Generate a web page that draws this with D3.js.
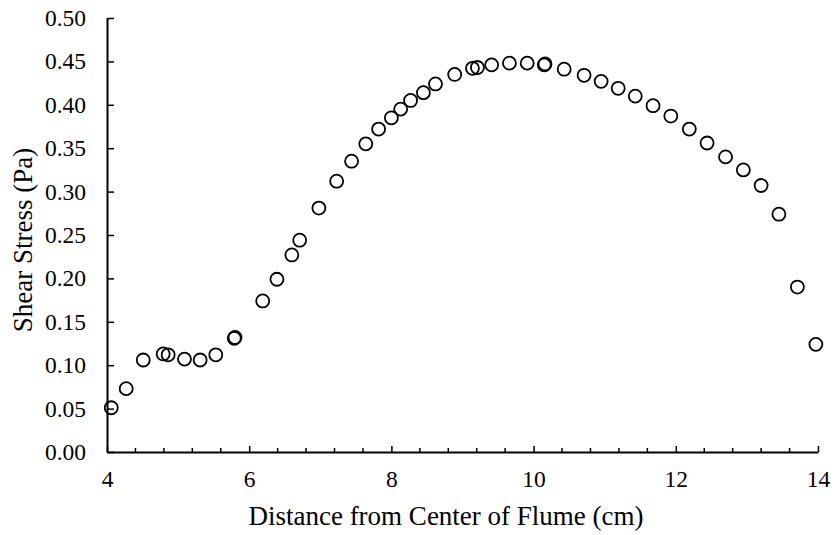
<!DOCTYPE html>
<html>
<head>
<meta charset="utf-8">
<script src="https://cdn.jsdelivr.net/npm/d3@7"></script>
<style>
  html, body { margin: 0; padding: 0; background: #fff; }
  svg text { fill: #000; }
</style>
</head>
<body>
<svg id="chart" width="837" height="535"></svg>
<script>
// Distance from flume centre (cm) and measured wall shear stress (Pa)
const distance = [
  4.06, 4.27, 4.51, 4.79, 4.86, 5.09, 5.31, 5.53, 5.79, 5.80,
  6.19, 6.39, 6.60, 6.71, 6.98, 7.23, 7.44, 7.64, 7.82, 8.00,
  8.13, 8.27, 8.45, 8.62, 8.89, 9.14, 9.21, 9.41, 9.66, 9.91,
  10.15, 10.16, 10.43, 10.71, 10.95, 11.19, 11.43, 11.68, 11.93, 12.19,
  12.44, 12.70, 12.95, 13.20, 13.45, 13.71, 13.97
];
const shearStress = [
  0.051, 0.073, 0.106, 0.113, 0.112, 0.107, 0.106, 0.112, 0.131, 0.132,
  0.174, 0.199, 0.227, 0.244, 0.281, 0.312, 0.335, 0.355, 0.372, 0.385,
  0.395, 0.405, 0.414, 0.424, 0.435, 0.442, 0.443, 0.446, 0.448, 0.448,
  0.446, 0.447, 0.441, 0.434, 0.427, 0.419, 0.410, 0.399, 0.387, 0.372,
  0.356, 0.340, 0.325, 0.307, 0.274, 0.190, 0.124
];
const xTicks = [4, 6, 8, 10, 12, 14];
const yTicks = [0, 0.05, 0.10, 0.15, 0.20, 0.25, 0.30, 0.35, 0.40, 0.45, 0.50];
const xTitle = "Distance from Center of Flume (cm)";
const yTitle = "Shear Stress (Pa)";

const serif = "'Liberation Serif', 'DejaVu Serif', serif";
const tickSize = "23.5px";
const titleSize = "27px";

const svg = d3.select("#chart");
const plot = { left: 107, right: 818, top: 18, bottom: 452 };

const x = d3.scaleLinear().domain([4, 14]).range([plot.left, plot.right]);
const y = d3.scaleLinear().domain([0, 0.5]).range([plot.bottom, plot.top]);

// Minor x ticks every 0.4 cm, drawn inward
const xMinor = d3.range(4, 14.001, 0.4).filter(v => !xTicks.some(t => Math.abs(t - v) < 1e-6));
svg.append("g").selectAll("line").data(xMinor).join("line")
  .attr("x1", d => x(d)).attr("x2", d => x(d))
  .attr("y1", plot.bottom).attr("y2", plot.bottom - 4)
  .attr("stroke", "#000").attr("stroke-width", 1.5);

// X axis with inward major ticks
const xAxis = d3.axisBottom(x).tickValues(xTicks).tickFormat(d3.format("d"))
  .tickSizeInner(-6).tickSizeOuter(0).tickPadding(18);
const gx = svg.append("g").attr("transform", `translate(0,${plot.bottom})`).call(xAxis);
gx.select(".domain").attr("stroke", "#000").attr("stroke-width", 2);
gx.selectAll(".tick line").attr("stroke", "#000").attr("stroke-width", 1.5);
gx.selectAll(".tick text").style("font-family", serif).style("font-size", tickSize);

// Y axis with inward ticks
const yAxis = d3.axisLeft(y).tickValues(yTicks).tickFormat(d3.format(".2f"))
  .tickSizeInner(-7).tickSizeOuter(0).tickPadding(21);
const gy = svg.append("g").attr("transform", `translate(${plot.left},0)`).call(yAxis);
gy.select(".domain").attr("stroke", "#000").attr("stroke-width", 2);
gy.selectAll(".tick line").attr("stroke", "#000").attr("stroke-width", 1.5);
gy.selectAll(".tick text").style("font-family", serif).style("font-size", tickSize);

// Axis titles
svg.append("text")
  .attr("x", 446).attr("y", 525)
  .attr("text-anchor", "middle")
  .style("font-family", serif).style("font-size", titleSize)
  .text(xTitle);
svg.append("text")
  .attr("transform", `translate(32,240) rotate(-90)`)
  .attr("text-anchor", "middle")
  .style("font-family", serif).style("font-size", titleSize)
  .text(yTitle);

// Measured points: open circles
svg.append("g").selectAll("circle").data(distance.map((d, i) => [d, shearStress[i]]))
  .join("circle")
  .attr("cx", d => x(d[0])).attr("cy", d => y(d[1]))
  .attr("r", 6.5)
  .attr("fill", "none").attr("stroke", "#000").attr("stroke-width", 1.8);
</script>
</body>
</html>
